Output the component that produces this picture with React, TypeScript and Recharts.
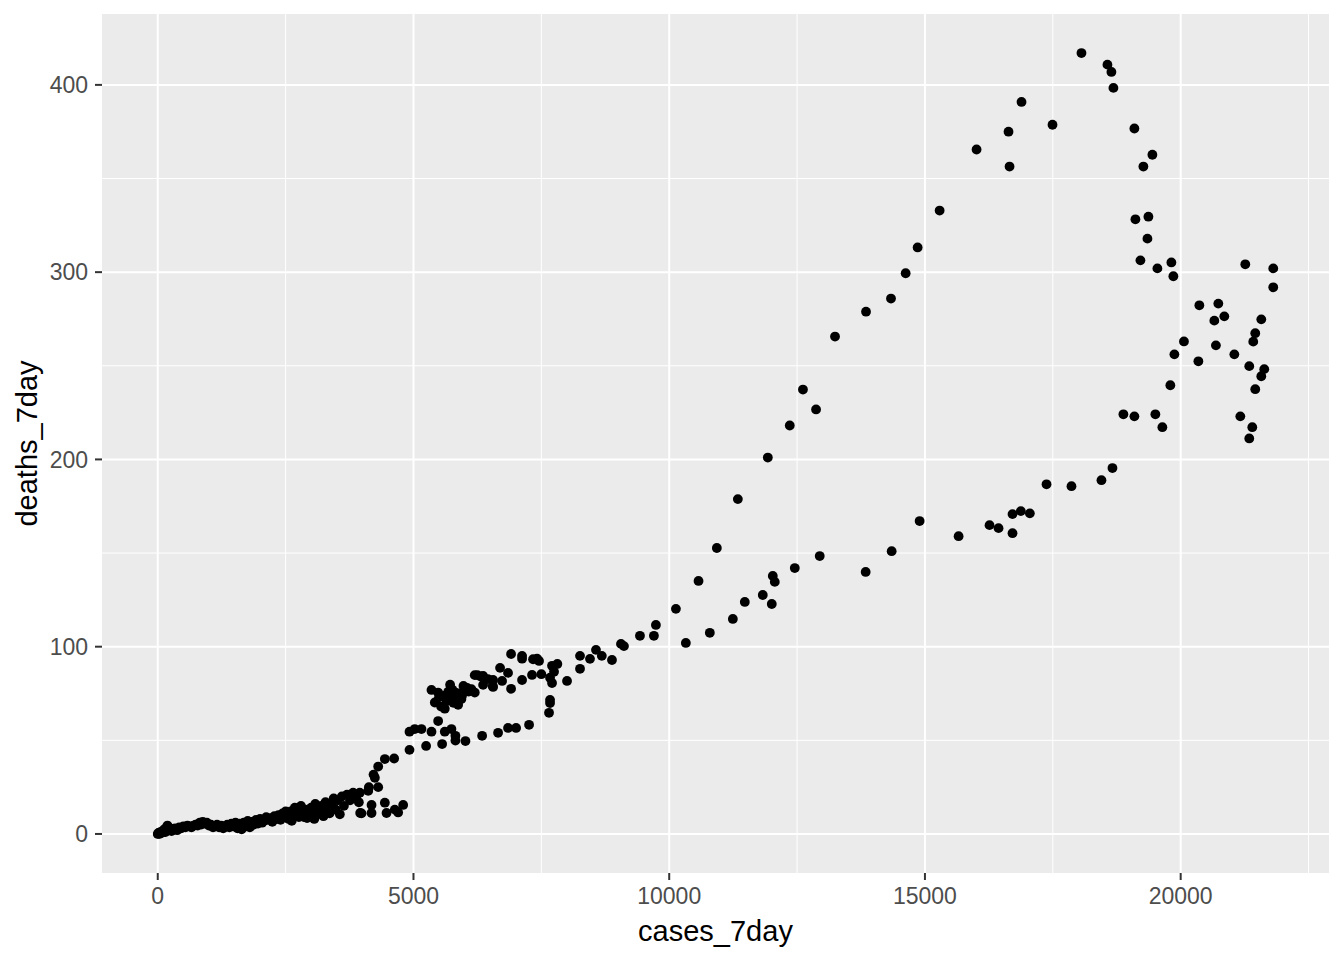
import React from 'react';
import { ScatterChart, Scatter, XAxis, YAxis, CartesianGrid } from 'recharts';

// Low-count period (cases_7day, deaths_7day)
const lowCases = [0, 15, 30, 50, 70, 90, 110, 130, 150, 170, 190, 210, 240, 270, 300, 340, 380, 420, 460, 500, 540, 580, 620, 660, 700, 740, 780, 820, 850, 880, 920, 960, 1000, 1040, 1080, 1120, 1160, 1200, 1240, 1280, 1320, 1360, 1400, 1440, 1480, 1520, 1560, 1600, 1640, 1680, 1720, 1760, 1800, 1840, 1880, 1920, 1960, 2000, 2040, 2080, 2120, 2160, 2200, 2240, 2280, 2320, 2360, 2400, 2440, 2480, 2520, 2560, 2600, 2640, 2680, 2720, 2760, 2800, 2840, 2880, 2920, 2960, 3000, 3040, 3080, 3120, 3160, 3200, 3240, 3280, 3320, 3360, 3400, 3440, 3480, 3520, 3560, 3600, 3640, 3700, 3760, 3820, 3880, 3950, 3984, 4115, 4128, 4180, 4180, 4219, 4245, 4310, 4310, 4440, 4440, 4473, 4622, 4635, 4700, 4798, 3932, 3958, 2620, 2700, 2780, 2860, 2500, 3180, 3060];
const lowDeaths = [0, 0.5, 0, 1, 0.5, 1.5, 1, 2.5, 1, 3, 4.5, 2, 3, 1.5, 2.5, 3, 2, 3.5, 3, 4, 3.5, 4.5, 4, 3.5, 4.5, 5, 4.5, 6, 5, 6.5, 5.5, 6, 4.5, 5, 3.5, 4, 5, 3.5, 4.5, 3, 4, 5, 3.5, 5.5, 4, 6, 3, 5.5, 2.5, 6, 4, 7, 3.5, 6.5, 5, 7.5, 5.5, 8, 6, 7, 9, 7.5, 8.5, 6.5, 9.5, 8, 10, 7.5, 11, 9, 10.5, 8, 12, 10, 14, 12.5, 9, 15, 11, 13, 8.5, 12, 14, 10, 16, 13, 11, 15, 9.5, 17, 14, 11, 16, 19, 13, 18, 10.5, 20, 15, 21, 18, 22, 20, 22, 11, 23, 25, 15.5, 11.2, 31.7, 30, 25, 36, 40, 16.7, 11.2, 40.3, 13, 11.5, 15.5, 16.9, 11.2, 7, 10, 13, 9, 12, 12, 8];

// Middle period
const midCases = [4922, 5247, 5560, 4922, 5025, 5156, 5352, 5482, 5612, 5742, 5820, 5820, 6016, 6342, 6654, 6849, 7006, 7260, 7650, 7670, 7670, 5352, 5482, 5716, 5977, 5820, 5612, 5417, 5612, 5873, 6133, 6198, 6455, 6549, 5716, 5937, 6198, 6250, 6315, 5540, 5680, 5780, 5900, 6050, 6361, 6361, 6556, 6556, 6693, 6732, 6849, 6908, 6908, 7123, 7123, 7123, 7318, 7338, 7416, 7455, 7500, 7670, 7709, 7709, 7748, 7813, 8002, 8256, 8256, 8451, 8568, 8682, 8881, 5650, 5760, 5850, 5500, 5950, 6080];
const midDeaths = [44.9, 47, 48, 54.6, 56, 56, 54.6, 60.3, 54.6, 56, 52.4, 49.9, 49.6, 52.4, 54, 56.6, 56.6, 58.3, 64.7, 69.9, 71.6, 76.9, 75.5, 79.7, 79, 75.5, 73.8, 70.2, 66.9, 69, 77.3, 75.5, 82.7, 79, 72, 72, 84.8, 84.8, 84.1, 68, 76, 70, 75, 78, 84.4, 79.6, 82.2, 78.5, 88.7, 81.7, 86, 96.1, 77.5, 95.1, 93.6, 82.2, 84.9, 93.3, 93.6, 92.4, 85.3, 83.4, 80.6, 89.8, 86.6, 90.8, 81.7, 95.1, 88.2, 93.5, 98.3, 95.1, 92.9, 71, 77, 73, 73, 74, 76];

// High period
const highCases = [9057, 9115, 9428, 9701, 9740, 10131, 10325, 10573, 10794, 10931, 11244, 11342, 11478, 11829, 11928, 12005, 12025, 12064, 12357, 12455, 12615, 12871, 12943, 13242, 13841, 13848, 14336, 14349, 14623, 14857, 14896, 15287, 15658, 16009, 16263, 16439, 16634, 16654, 16712, 16712, 16875, 16888, 17051, 17377, 17494, 17865, 18060, 18451, 18568, 18646, 18666, 18685, 18880, 19095, 19095, 19115, 19213, 19271, 19350, 19369, 19447, 19505, 19545, 19642, 19798, 19818, 19857, 19877, 20064, 20346, 20365, 20658, 20689, 20736, 20853, 21049, 21166, 21263, 21341, 21341, 21400, 21419, 21458, 21458, 21576, 21576, 21634, 21810, 21810];
const highDeaths = [101.5, 100.3, 105.8, 105.8, 111.6, 120.2, 102, 135.1, 107.4, 152.7, 114.8, 178.8, 123.9, 127.6, 201, 122.8, 137.8, 134.6, 218.1, 142, 237.3, 226.7, 148.4, 265.6, 139.9, 278.9, 285.9, 151, 299.4, 313.2, 167.1, 332.9, 159, 365.5, 164.9, 163.3, 375, 356.4, 170.8, 160.6, 172.4, 390.9, 171.2, 186.7, 378.7, 185.7, 417, 188.9, 410.8, 406.9, 195.4, 398.4, 224.1, 376.7, 223, 328.2, 306.3, 356.4, 317.9, 329.6, 362.7, 224.1, 302, 217.2, 239.6, 305.2, 297.8, 256.1, 263, 252.4, 282.3, 274.1, 260.9, 283.2, 276.4, 256.1, 223, 304.2, 249.8, 211.2, 217.2, 262.9, 267.4, 237.5, 274.8, 244.4, 248.2, 302, 291.9];

const xMajor = [0, 5000, 10000, 15000, 20000];
const xMinor = [2500, 7500, 12500, 17500, 22500];
const yMajor = [0, 100, 200, 300, 400];
const yMinor = [50, 150, 250, 350];

const allCases = [...lowCases, ...midCases, ...highCases];
const allDeaths = [...lowDeaths, ...midDeaths, ...highDeaths];
const data = allCases.map((c, i) => ({ cases_7day: c, deaths_7day: allDeaths[i] }));

const FONT = '"Liberation Sans", Arial, sans-serif';

const Dot = (props: any) => <circle cx={props.cx} cy={props.cy} r={4.9} fill="#000000" />;

const YTitle = (props: any) => {
  const vb = props.viewBox || { x: 0, y: 14, width: 102, height: 859 };
  const cx = vb.x + 37;
  const cy = vb.y + vb.height / 2;
  return (
    <text x={cx} y={cy} transform={`rotate(-90, ${cx}, ${cy})`} textAnchor="middle" fontSize={29} fill="#000" fontFamily={FONT}>
      deaths_7day
    </text>
  );
};

const XTitle = (props: any) => {
  const vb = props.viewBox || { x: 102, y: 873, width: 1227, height: 87 };
  const cx = vb.x + vb.width / 2;
  const cy = vb.y + 68;
  return (
    <text x={cx} y={cy} textAnchor="middle" fontSize={29} fill="#000" fontFamily={FONT}>
      cases_7day
    </text>
  );
};

export default function App() {
  return (
    <div style={{ position: 'absolute', left: 0, top: 0, width: 1344, height: 960, background: '#fff' }}>
      <ScatterChart width={1344} height={960} margin={{ top: 14, right: 15, bottom: 0, left: 0 }}>
        <CartesianGrid fill="#EBEBEB" stroke="#FFFFFF" strokeWidth={1} horizontalValues={yMinor} verticalValues={xMinor} />
        <CartesianGrid stroke="#FFFFFF" strokeWidth={2} horizontalValues={yMajor} verticalValues={xMajor} />
        <XAxis
          dataKey="cases_7day"
          type="number"
          domain={[-1090, 22900]}
          allowDataOverflow
          ticks={xMajor}
          height={87}
          axisLine={false}
          tickLine={{ stroke: '#333333', strokeWidth: 2 }}
          tickSize={7}
          tickMargin={8}
          tick={{ fill: '#4D4D4D', fontSize: 23, fontFamily: FONT }}
          label={<XTitle />}
        />
        <YAxis
          dataKey="deaths_7day"
          type="number"
          domain={[-20.85, 437.85]}
          allowDataOverflow
          ticks={yMajor}
          width={102}
          axisLine={false}
          tickLine={{ stroke: '#333333', strokeWidth: 2 }}
          tickSize={7}
          tickMargin={7}
          tick={{ fill: '#4D4D4D', fontSize: 23, fontFamily: FONT }}
          label={<YTitle />}
        />
        <Scatter data={data} fill="#000000" shape={<Dot />} isAnimationActive={false} />
      </ScatterChart>
    </div>
  );
}
